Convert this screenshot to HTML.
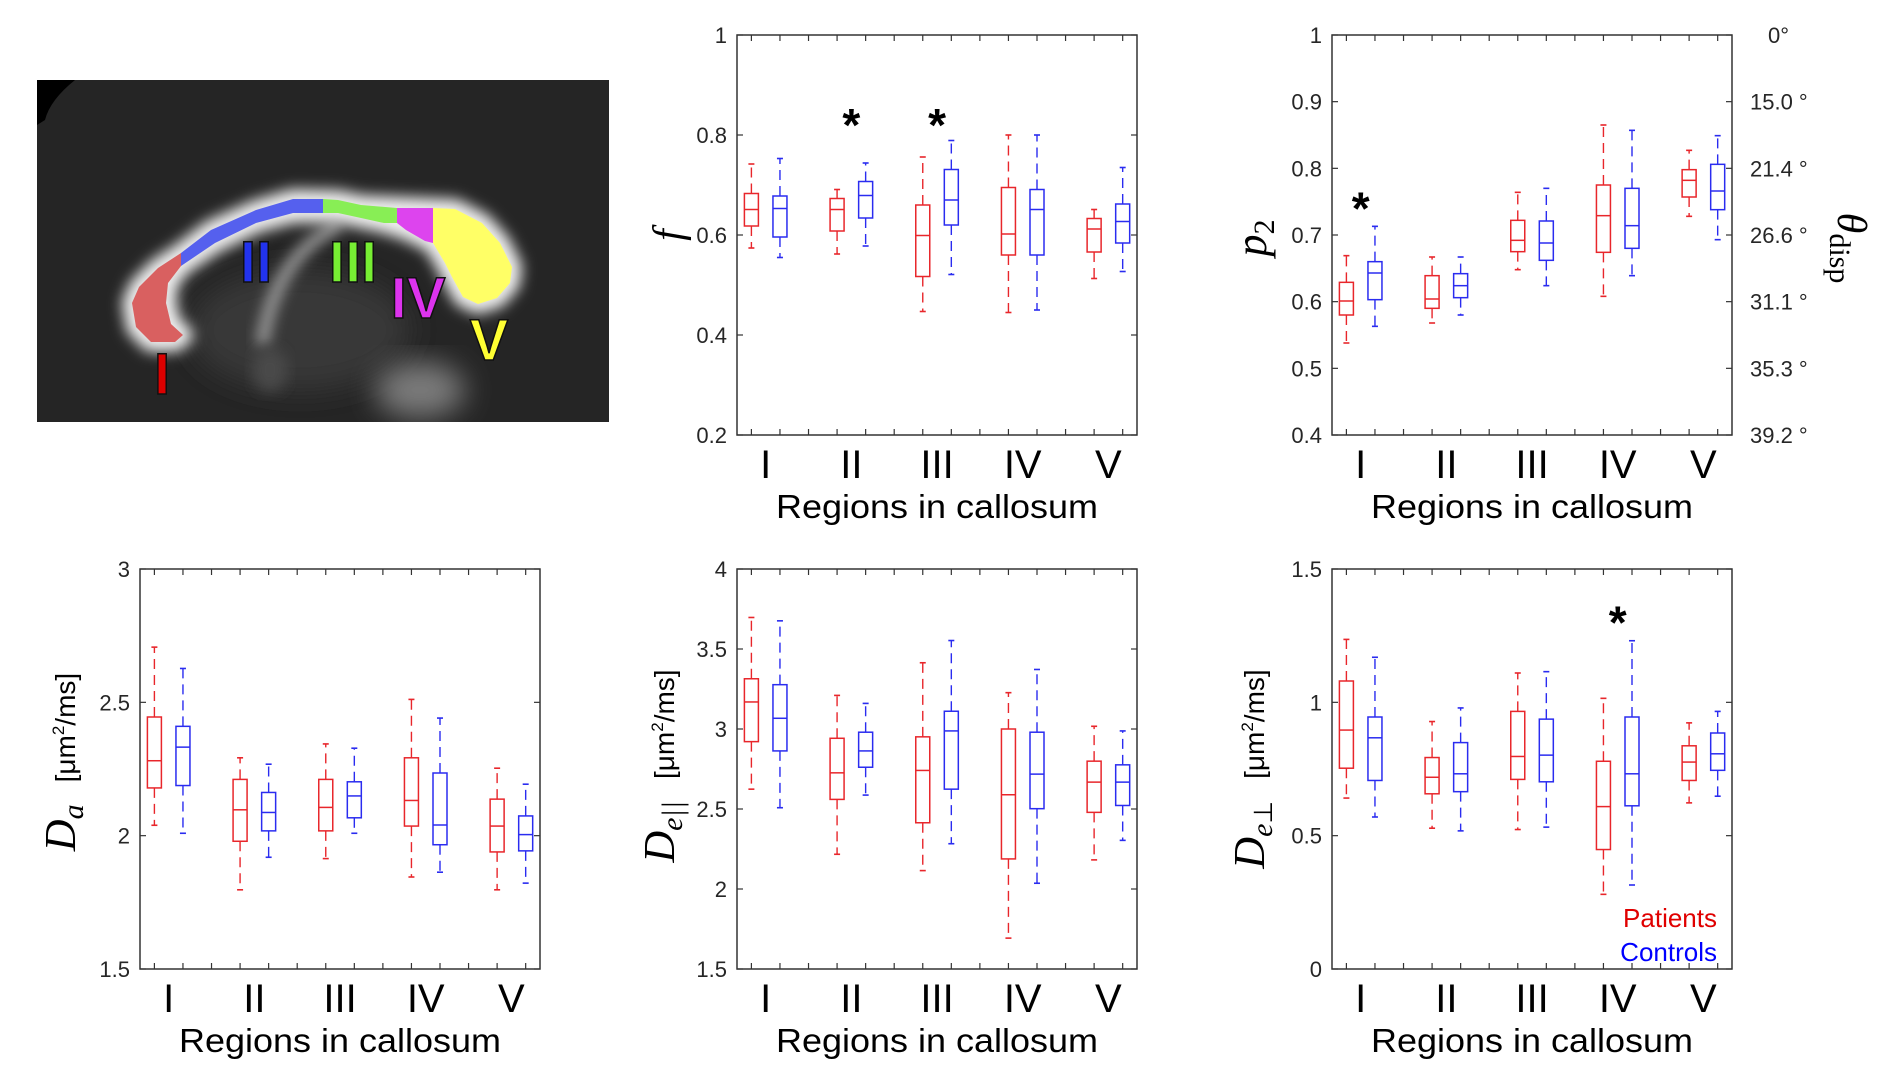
<!DOCTYPE html>
<html><head><meta charset="utf-8"><style>
html,body{margin:0;padding:0;background:#fff;}
svg{display:block;}
text{font-family:"Liberation Sans",sans-serif;}
.tick{font-size:22px;fill:#262626;}
.reg{font-family:"Liberation Sans Narrow","Liberation Sans",sans-serif;font-size:40px;fill:#000;}
.ttl{font-size:33px;fill:#000;}
.math{font-family:"Liberation Serif",serif;font-style:italic;fill:#000;}
.blab{font-family:"Liberation Sans Narrow","Liberation Sans",sans-serif;font-weight:bold;font-size:58px;stroke:#111;stroke-width:1.5;}
</style></head><body>
<svg id="fig" width="1890" height="1069" viewBox="0 0 1890 1069" xmlns="http://www.w3.org/2000/svg">
<defs>
<filter id="blur8" x="-20%" y="-20%" width="140%" height="140%"><feGaussianBlur stdDeviation="7"/></filter>
<filter id="blur14" x="-30%" y="-30%" width="160%" height="160%"><feGaussianBlur stdDeviation="14"/></filter>
<clipPath id="brainclip"><rect x="37" y="80" width="572" height="342"/></clipPath>
</defs>
<g>
<rect x="37" y="80" width="572" height="342" fill="#252525"/>
<g clip-path="url(#brainclip)">
<path d="M37 80 L75 80 Q50 100 45 120 L37 125 Z" fill="#000"/>
<ellipse cx="300" cy="330" rx="110" ry="60" fill="#383838" filter="url(#blur14)"/>
<ellipse cx="420" cy="390" rx="45" ry="28" fill="#7a7a7a" filter="url(#blur14)"/>
<path d="M262 345 Q275 255 340 225" stroke="#a0a0a0" stroke-width="12" fill="none" filter="url(#blur8)"/>
<ellipse cx="270" cy="370" rx="18" ry="22" fill="#4a4a4a" filter="url(#blur8)"/>
<path d="M181 253 L211 230 L256 210 L293 199 L338 200 L361 205 L433 208 L455 209 L482 223 L500 243 L512 267 L510 283 L497 298 L478 304 L463 297 L452 277 L445 263 L433 243 L406 230 L384 223 L361 218 L338 213 L293 213 L256 223 L215 243 L181 266 L168 283 L166 303 L171 324 L183 335 L175 342 L151 342 L136 327 L132 303 L139 287 L158 268 Z" fill="#eee" stroke="#eee" stroke-width="20" stroke-linejoin="round" filter="url(#blur8)"/>
<polygon points="181,253 181,266 168,283 166,303 171,324 183,335 175,342 151,342 136,327 132,303 139,287 158,268" fill="#d96060"/>
<polygon points="181,253 211,230 256,210 293,199 323,199 323,213 293,213 256,223 215,243 181,266" fill="#5560ee"/>
<polygon points="323,199 338,200 361,205 397,208 397,223 384,223 361,218 338,213 323,213" fill="#88ee55"/>
<polygon points="397,208 433,208 433,243 425,241 406,230 397,223" fill="#dd44ee"/>
<polygon points="433,208 455,209 482,223 500,243 512,267 510,283 497,298 478,304 463,297 452,277 445,263 433,243" fill="#ffff66"/>
</g>
<text class="blab" x="162" y="394" text-anchor="middle" fill="#dd0000">I</text>
<text class="blab" x="256" y="282" text-anchor="middle" fill="#2233ee">II</text>
<text class="blab" x="353" y="282" text-anchor="middle" fill="#77ee33">III</text>
<text class="blab" x="418" y="318" text-anchor="middle" fill="#dd33ee">IV</text>
<text class="blab" x="489" y="360" text-anchor="middle" fill="#ffff33">V</text>
</g>
<g id="charts"></g>
</svg>
<script>
// ---------- data: [lowerWhisker, q1, median, q3, upperWhisker] per region I..V ----------
const regions = ["I","II","III","IV","V"];
const fPatients = [[0.574,0.618,0.651,0.683,0.742],[0.562,0.608,0.651,0.673,0.691],[0.447,0.517,0.599,0.660,0.756],[0.445,0.560,0.602,0.695,0.800],[0.513,0.566,0.612,0.633,0.651]];
const fControls = [[0.555,0.596,0.653,0.678,0.753],[0.578,0.634,0.679,0.707,0.744],[0.521,0.620,0.670,0.731,0.789],[0.450,0.560,0.651,0.691,0.800],[0.527,0.584,0.627,0.662,0.735]];
const p2Patients = [[0.538,0.580,0.601,0.629,0.669],[0.568,0.590,0.604,0.639,0.667],[0.648,0.675,0.692,0.722,0.764],[0.608,0.674,0.729,0.775,0.865],[0.728,0.757,0.782,0.798,0.827]];
const p2Controls = [[0.563,0.603,0.643,0.660,0.713],[0.580,0.606,0.624,0.642,0.667],[0.624,0.662,0.688,0.721,0.770],[0.639,0.680,0.714,0.770,0.857],[0.693,0.738,0.766,0.806,0.849]];
const daPatients = [[2.039,2.179,2.281,2.445,2.707],[1.797,1.979,2.097,2.211,2.292],[1.914,2.018,2.106,2.211,2.344],[1.845,2.036,2.132,2.292,2.511],[1.797,1.939,2.036,2.137,2.253]];
const daControls = [[2.009,2.188,2.332,2.410,2.627],[1.919,2.018,2.087,2.162,2.268],[2.009,2.067,2.149,2.202,2.328],[1.863,1.966,2.040,2.235,2.441],[1.822,1.943,2.004,2.074,2.193]];
const deParPatients = [[2.624,2.921,3.169,3.314,3.697],[2.217,2.560,2.726,2.942,3.210],[2.115,2.414,2.741,2.951,3.414],[1.693,2.188,2.589,3.000,3.227],[2.182,2.479,2.668,2.799,3.017]];
const deParControls = [[2.508,2.863,3.067,3.277,3.676],[2.587,2.761,2.863,2.980,3.160],[2.283,2.624,2.988,3.111,3.553],[2.036,2.502,2.718,2.980,3.372],[2.304,2.522,2.668,2.776,2.988]];
const dePerpPatients = [[0.641,0.753,0.896,1.080,1.236],[0.528,0.657,0.719,0.793,0.928],[0.523,0.711,0.797,0.966,1.110],[0.280,0.448,0.609,0.779,1.015],[0.623,0.707,0.776,0.837,0.923]];
const dePerpControls = [[0.570,0.707,0.867,0.945,1.169],[0.518,0.665,0.732,0.849,0.979],[0.532,0.702,0.802,0.937,1.115],[0.315,0.612,0.732,0.945,1.231],[0.648,0.745,0.807,0.885,0.966]];
const fTicks = [0.2,0.4,0.6,0.8,1];
const fTickLabels = ["0.2","0.4","0.6","0.8","1"];
const p2Ticks = [0.4,0.5,0.6,0.7,0.8,0.9,1];
const p2TickLabels = ["0.4","0.5","0.6","0.7","0.8","0.9","1"];
const thetaTickLabels = ["39.2 °","35.3 °","31.1 °","26.6 °","21.4 °","15.0 °","0°"];
const daTicks = [1.5,2,2.5,3];
const daTickLabels = ["1.5","2","2.5","3"];
const deParTicks = [1.5,2,2.5,3,3.5,4];
const deParTickLabels = ["1.5","2","2.5","3","3.5","4"];
const dePerpTicks = [0,0.5,1,1.5];
const dePerpTickLabels = ["0","0.5","1","1.5"];
const fStars = [1,2];
const p2Stars = [0];
const dePerpStars = [3];

const NS = "http://www.w3.org/2000/svg";
const root = document.getElementById("charts");
function mk(tag, attrs, parent){
  const e = document.createElementNS(NS, tag);
  for (const k in attrs) e.setAttribute(k, attrs[k]);
  (parent||root).appendChild(e);
  return e;
}
const W = 400, H = 400;
function drawChart(cfg){
  const g = mk("g", {});
  
  
  const L = cfg.left, T = cfg.top;
  const xs = p => L + W*(0.036 + p*0.0714);
  const ys = v => T + H - (v - cfg.ymin)/(cfg.ymax - cfg.ymin)*H;
  const frame = mk("rect", {x:L, y:T, width:W, height:H, fill:"none", stroke:"#333", "stroke-width":1.5}, g);
  
  
  for (let p = 0; p < 14; p++){
    mk("line", {x1:xs(p), x2:xs(p), y1:T, y2:T+6, stroke:"#333", "stroke-width":1.2}, g);
    mk("line", {x1:xs(p), x2:xs(p), y1:T+H, y2:T+H-6, stroke:"#333", "stroke-width":1.2}, g);
  }
  cfg.ticks.forEach((v,i) => {
    const y = ys(v);
    mk("line", {x1:L, x2:L+6, y1:y, y2:y, stroke:"#333", "stroke-width":1.2}, g);
    mk("line", {x1:L+W, x2:L+W-6, y1:y, y2:y, stroke:"#333", "stroke-width":1.2}, g);
    const t = mk("text", {x:L-10, y:y+8, "text-anchor":"end", class:"tick"}, g);
    t.textContent = cfg.tickLabels[i];
    
    
    if (cfg.rightLabels){
      const r = mk("text", {x:L+W+(cfg.rightLabels[i]==="0°"?36:18), y:y+8, "text-anchor":"start", class:"tick"}, g);
      r.textContent = cfg.rightLabels[i];
      
      
    }
  });
  regions.forEach((r,k) => {
    const t = mk("text", {x:xs(3*k+0.5), y:T+H+43, "text-anchor":"middle", class:"reg"}, g);
    t.textContent = r;
    
    
  });
  const tt = mk("text", {x:L+W/2, y:T+H+83, "text-anchor":"middle", class:"ttl", textLength:322, lengthAdjust:"spacingAndGlyphs"}, g);
  tt.textContent = "Regions in callosum";
  
  
  function box(st, p, color, nm){
    const bg = mk("g", {}, g);
    
    
    const cx = xs(p), bw = 14, cw = 3;
    mk("line", {x1:cx, x2:cx, y1:ys(st[3]), y2:ys(st[4]), stroke:color, "stroke-width":1.4, "stroke-dasharray":"10,6"}, bg);
    mk("line", {x1:cx, x2:cx, y1:ys(st[1]), y2:ys(st[0]), stroke:color, "stroke-width":1.4, "stroke-dasharray":"10,6"}, bg);
    mk("line", {x1:cx-cw, x2:cx+cw, y1:ys(st[4]), y2:ys(st[4]), stroke:color, "stroke-width":1.6}, bg);
    mk("line", {x1:cx-cw, x2:cx+cw, y1:ys(st[0]), y2:ys(st[0]), stroke:color, "stroke-width":1.6}, bg);
    mk("rect", {x:cx-bw/2, y:ys(st[3]), width:bw, height:ys(st[1])-ys(st[3]), fill:"none", stroke:color, "stroke-width":1.5}, bg);
    mk("line", {x1:cx-bw/2, x2:cx+bw/2, y1:ys(st[2]), y2:ys(st[2]), stroke:color, "stroke-width":1.5}, bg);
  }
  cfg.pat.forEach((st,k) => box(st, 3*k, "#e8262b", "patients-box-" + regions[k]));
  cfg.con.forEach((st,k) => box(st, 3*k+1, "#2a2cf0", "controls-box-" + regions[k]));
  (cfg.stars||[]).forEach(k => {
    const s = mk("text", {x:xs(3*k+0.5), y:ys(cfg.starV)+24, "text-anchor":"middle", "font-size":"46", "font-weight":"bold", fill:"#000"}, g);
    s.textContent = "*";
    
    
  });
  const yl = mk("text", {transform:`translate(${cfg.ylx},${cfg.yly}) rotate(-90)`, "text-anchor":"middle"}, g);
  
  
  yl.innerHTML = cfg.ylab;
  return {xs, ys, g};
}
const unit = '<tspan font-family="Liberation Sans,sans-serif" font-style="normal" font-size="28" dx="22">[μm<tspan font-size="17" dy="-11">2</tspan><tspan dy="11">/ms]</tspan></tspan>';
drawChart({name:"f-chart", left:737, top:35, ymin:0.2, ymax:1, ticks:fTicks, tickLabels:fTickLabels, pat:fPatients, con:fControls, stars:fStars, starV:0.836, ylx:682, yly:235,
  ylab:'<tspan class="math" font-size="42">f</tspan>'});
drawChart({name:"p2-chart", left:1332, top:35, ymin:0.4, ymax:1, ticks:p2Ticks, tickLabels:p2TickLabels, rightLabels:thetaTickLabels, pat:p2Patients, con:p2Controls, stars:p2Stars, starV:0.752, ylx:1266, yly:238,
  ylab:'<tspan class="math" font-size="44">p</tspan><tspan font-family="Liberation Serif,serif" font-size="30" dy="8">2</tspan>'});
drawChart({name:"da-chart", left:140, top:569, ymin:1.5, ymax:3, ticks:daTicks, tickLabels:daTickLabels, pat:daPatients, con:daControls, ylx:75, yly:762,
  ylab:'<tspan class="math" font-size="44">D</tspan><tspan class="math" font-size="30" dy="8">a</tspan><tspan dy="-8">'+unit+'</tspan>'});
drawChart({name:"de-parallel-chart", left:737, top:569, ymin:1.5, ymax:4, ticks:deParTicks, tickLabels:deParTickLabels, pat:deParPatients, con:deParControls, ylx:674, yly:766,
  ylab:'<tspan class="math" font-size="44">D</tspan><tspan class="math" font-size="30" dy="8">e||</tspan><tspan dy="-8">'+unit+'</tspan>'});
drawChart({name:"de-perp-chart", left:1332, top:569, ymin:0, ymax:1.5, ticks:dePerpTicks, tickLabels:dePerpTickLabels, pat:dePerpPatients, con:dePerpControls, stars:dePerpStars, starV:1.33, ylx:1264, yly:769,
  ylab:'<tspan class="math" font-size="44">D</tspan><tspan class="math" font-size="30" dy="8">e</tspan><tspan font-family="DejaVu Sans,sans-serif" font-style="normal" font-size="26">⊥</tspan><tspan dy="-8">'+unit+'</tspan>'});
const th = mk("text", {transform:"translate(1838,248) rotate(90)", "text-anchor":"middle"});


th.innerHTML = '<tspan class="math" font-size="42">θ</tspan><tspan font-family="Liberation Serif,serif" font-size="30" dy="8">disp</tspan>';
const lp = mk("text", {x:1717, y:927, "text-anchor":"end", "font-size":"26", fill:"#e00000"});
lp.textContent = "Patients";


const lc = mk("text", {x:1717, y:961, "text-anchor":"end", "font-size":"26", fill:"#0000ff"});
lc.textContent = "Controls";


</script>
</body></html>
